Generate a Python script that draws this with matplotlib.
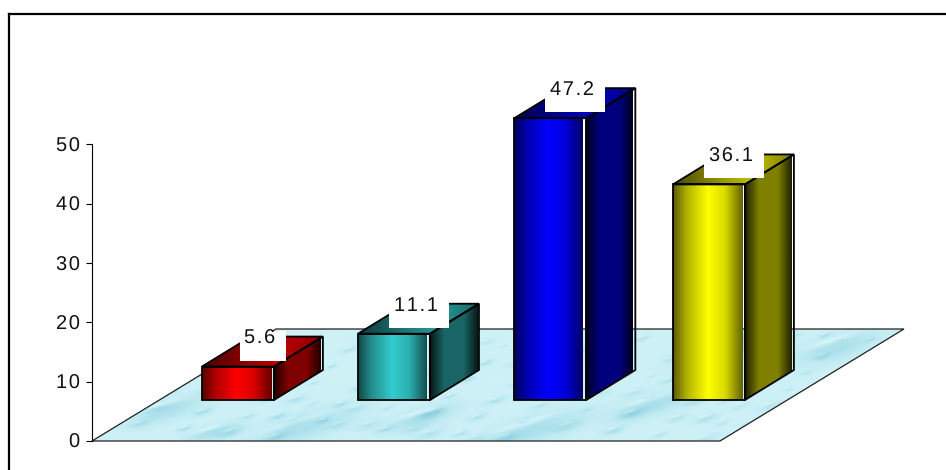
import numpy as np
import matplotlib
matplotlib.use("Agg")
import matplotlib.pyplot as plt
from matplotlib.colors import LinearSegmentedColormap
from matplotlib.lines import Line2D
from matplotlib.patches import Polygon, Rectangle

plt.rcParams['font.family'] = ['Liberation Sans', 'DejaVu Sans']
plt.rcParams['text.hinting'] = 'none'

# chart values
values = [5.6, 11.1, 47.2, 36.1]
value_labels = ["5.6", "11.1", "47.2", "36.1"]
bar_colors = ["#ff0000", "#33cccc", "#0000ff", "#ffff00"]
y_ticks = [0, 10, 20, 30, 40, 50]

# size of one data unit on screen
PX_X = 157.0
PX_Y = 5.93

# 3d look of the bars and the floor
BAR_POS = [0.70, 1.694, 2.69, 3.70]
BAR_WIDTH = 72 / PX_X
BAR_BASE = 41 / PX_Y
BAR_STRETCH = 1.007
DEPTH_X = 49 / PX_X
DEPTH_Y = 30 / PX_Y
FLOOR_DX = 184 / PX_X
FLOOR_TOP = 112 / PX_Y

FONT_SIZE = 14.4
HAIR = "\u200a"

# larger puddles on the floor: x, height above the front edge, half sizes
PUDDLES = [(75, 30, 42, 11), (210, 12, 58, 13), (330, 22, 40, 10),
           (440, 10, 60, 14), (640, 95, 55, 14), (745, 92, 50, 13),
           (560, 35, 45, 11), (120, 8, 30, 7)]


def spaced(s):
    # the labels have wide letter spacing
    return HAIR.join(s)


def shade(color, k):
    c = np.array(matplotlib.colors.to_rgb(color))
    return tuple(c * k)


def clip_image(ax, im, verts):
    # images may stick out of the axes, so only the polygon clips them
    im.set_clip_box(ax.figure.bbox)
    im.set_clip_path(Polygon(verts, closed=True, transform=ax.transData))


def gradient_face(ax, verts, color, stops, x_end):
    # horizontal shading, clipped to the shape of the face
    cmap = LinearSegmentedColormap.from_list(
        "face", [(p, shade(color, k)) for p, k in stops])
    xs = [v[0] for v in verts]
    ys = [v[1] for v in verts]
    grad = np.linspace(0, 1, 256).reshape(1, -1)
    im = ax.imshow(grad, cmap=cmap, aspect="auto", interpolation="bilinear",
                   extent=(min(xs), x_end, min(ys), max(ys)), zorder=3)
    clip_image(ax, im, verts)


def water_texture():
    # tilted soft dents, each with a thin bright rim on its upper side
    w = int((4 + FLOOR_DX) * PX_X)
    h = int(FLOOR_TOP * PX_Y)
    px, py = np.meshgrid(np.arange(w), np.arange(h))
    tex = np.full((h, w), 0.72)

    def dent(cx, cy, rx, ry, depth):
        nonlocal tex
        dx = px - cx
        dy = py - cy
        a = dx + 0.3 * dy
        b = dy - 0.3 * dx
        tex -= depth * np.exp(-(a / rx) ** 2 - (b / ry) ** 2)
        rim = np.exp(-((a + 0.1 * rx) / (0.5 * rx)) ** 2
                     - ((b - 0.7 * ry) / (0.14 * ry + 0.7)) ** 2)
        tex += 0.9 * depth * rim

    for cx, cy, rx, ry in PUDDLES:
        dent(cx, cy, rx, ry, 0.42)
    # small ones spread evenly with a golden ratio sequence
    for i in range(1, 150):
        fy = (i * 0.7549) % 1
        cx = ((i * 0.6180) % 1) * w
        size = 0.4 + 0.7 * ((i * 0.4142) % 1)
        scale = size * (1.2 - 0.6 * fy)
        dent(cx, fy * h, 13 * scale, 4 * scale, 0.22 + 0.22 * ((i * 0.2871) % 1))
    return np.clip(tex, 0, 1)


def draw_floor(ax):
    verts = [(0, 0), (4, 0), (4 + FLOOR_DX, FLOOR_TOP), (FLOOR_DX, FLOOR_TOP)]
    cmap = LinearSegmentedColormap.from_list(
        "water", ["#92d0e0", "#a8deea", "#bfeaf2", "#d0f2f7", "#e2f9fb"])
    im = ax.imshow(water_texture(), cmap=cmap, origin="lower", aspect="auto",
                   vmin=0, vmax=1, extent=(0, 4 + FLOOR_DX, 0, FLOOR_TOP),
                   interpolation="bilinear", zorder=1)
    clip_image(ax, im, verts)
    ax.add_patch(Polygon(verts, closed=True, fill=False, edgecolor="#202020",
                         linewidth=0.9, zorder=2, clip_on=False))


def draw_bar(ax, x0, value, color):
    x1 = x0 + BAR_WIDTH
    y0 = BAR_BASE
    y1 = BAR_BASE + value * BAR_STRETCH

    front = [(x0, y0), (x1, y0), (x1, y1), (x0, y1)]
    side = [(x1, y0), (x1 + DEPTH_X, y0 + DEPTH_Y),
            (x1 + DEPTH_X, y1 + DEPTH_Y), (x1, y1)]
    top = [(x0, y1), (x1, y1), (x1 + DEPTH_X, y1 + DEPTH_Y),
           (x0 + DEPTH_X, y1 + DEPTH_Y)]

    gradient_face(ax, front, color,
                  [(0, 0.35), (0.2, 0.7), (0.5, 1.0), (0.75, 0.85), (1, 0.38)],
                  x1 - 3 / PX_X)
    gradient_face(ax, side, color,
                  [(0, 0.12), (0.3, 0.5), (0.7, 0.5), (1, 0.12)],
                  x1 + DEPTH_X - 2 / PX_X)
    gradient_face(ax, top, color,
                  [(0, 0.28), (0.45, 0.62), (0.65, 0.75), (1, 0.5)],
                  x1 + DEPTH_X)

    for face in (front, side, top):
        ax.add_patch(Polygon(face, closed=True, fill=False, edgecolor="black",
                             linewidth=1.3, joinstyle="miter", zorder=4,
                             clip_on=False))


def draw_label(ax, x0, value, label):
    # white box sits over the top of the bar, text in its upper part
    box_w = (14 * len(label) + 4) / PX_X
    center = x0 + BAR_WIDTH / 2 + 25 / PX_X
    y_bottom = BAR_BASE + value * BAR_STRETCH + 6 / PX_Y
    ax.add_patch(Rectangle((center - box_w / 2, y_bottom), box_w, 30 / PX_Y,
                           facecolor="white", edgecolor="none", zorder=5,
                           clip_on=False))
    ax.text(center - 3 / PX_X, y_bottom + 22 / PX_Y, spaced(label),
            ha="center", va="center", fontsize=FONT_SIZE, color="#111111",
            zorder=6, clip_on=False)


fig = plt.figure(figsize=(9.46, 4.70), dpi=100, facecolor="white")
ax = fig.add_axes([92 / 946, 29 / 470, 628 / 946, 296.5 / 470])

draw_floor(ax)
for pos, val, col in zip(BAR_POS, values, bar_colors):
    draw_bar(ax, pos, val, col)
for pos, val, lab in zip(BAR_POS, values, value_labels):
    draw_label(ax, pos, val, lab)

ax.set_xlim(0, 4)
ax.set_ylim(0, 50)
ax.patch.set_visible(False)
ax.set_xticks([])
ax.set_yticks(y_ticks)
ax.set_yticklabels([spaced(str(t)) for t in y_ticks], fontsize=FONT_SIZE,
                   color="#111111")
ax.tick_params(axis="y", length=4.3, width=0.8, pad=4.5)
for name in ("top", "right", "bottom"):
    ax.spines[name].set_visible(False)
ax.spines["left"].set_linewidth(0.8)

# outer frame, only top and left edges show
fig.add_artist(Line2D([9 / 946, 1], [1 - 14 / 470, 1 - 14 / 470],
                      color="black", linewidth=1.6, transform=fig.transFigure))
fig.add_artist(Line2D([9 / 946, 9 / 946], [0, 1 - 14 / 470],
                      color="black", linewidth=1.6, transform=fig.transFigure))

fig.savefig("out.png", dpi=100)
